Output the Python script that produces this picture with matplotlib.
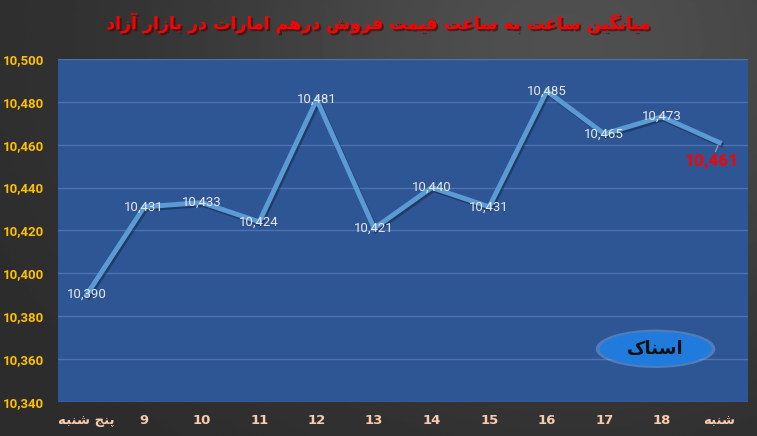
import numpy as np
import matplotlib
matplotlib.use("Agg")
import matplotlib.pyplot as plt
import matplotlib.patheffects as pe
from matplotlib.patches import Ellipse

# ------------------------------------
# Data
# ------------------------------------

categories = ["پنج شنبه", "9", "10", "11", "12", "13", "14", "15", "16", "17", "18", "شنبه"]
prices = [10390, 10431, 10433, 10424, 10481, 10421, 10440, 10431, 10485, 10465, 10473, 10461]
title_text = "میانگین ساعت به ساعت قیمت فروش درهم امارات در بازار آزاد"
y_ticks = [10340, 10360, 10380, 10400, 10420, 10440, 10460, 10480, 10500]


# ------------------------------------
# Minimal Persian shaping (no arabic_reshaper available)
# ------------------------------------

FORMS = {
    "ا": ("\uFE8D", "\uFE8E", None, None),
    "آ": ("\uFE81", "\uFE82", None, None),
    "ب": ("\uFE8F", "\uFE90", "\uFE91", "\uFE92"),
    "پ": ("\uFB56", "\uFB57", "\uFB58", "\uFB59"),
    "ت": ("\uFE95", "\uFE96", "\uFE97", "\uFE98"),
    "ج": ("\uFE9D", "\uFE9E", "\uFE9F", "\uFEA0"),
    "د": ("\uFEA9", "\uFEAA", None, None),
    "ر": ("\uFEAD", "\uFEAE", None, None),
    "ز": ("\uFEAF", "\uFEB0", None, None),
    "س": ("\uFEB1", "\uFEB2", "\uFEB3", "\uFEB4"),
    "ش": ("\uFEB5", "\uFEB6", "\uFEB7", "\uFEB8"),
    "ع": ("\uFEC9", "\uFECA", "\uFECB", "\uFECC"),
    "ف": ("\uFED1", "\uFED2", "\uFED3", "\uFED4"),
    "ق": ("\uFED5", "\uFED6", "\uFED7", "\uFED8"),
    "گ": ("\uFB92", "\uFB93", "\uFB94", "\uFB95"),
    "م": ("\uFEE1", "\uFEE2", "\uFEE3", "\uFEE4"),
    "ن": ("\uFEE5", "\uFEE6", "\uFEE7", "\uFEE8"),
    "ه": ("\uFEE9", "\uFEEA", "\uFEEB", "\uFEEC"),
    "و": ("\uFEED", "\uFEEE", None, None),
    "ی": ("\uFBFC", "\uFBFD", "\uFBFE", "\uFBFF"),
}


def shape(text):
    if not any(c in FORMS for c in text):
        return text
    out = []
    for i, c in enumerate(text):
        if c not in FORMS:
            out.append(c)
            continue
        prev_c = text[i - 1] if i > 0 else None
        next_c = text[i + 1] if i < len(text) - 1 else None
        joins_prev = prev_c in FORMS and FORMS[prev_c][2] is not None
        joins_next = FORMS[c][2] is not None and next_c in FORMS
        iso, fin, ini, med = FORMS[c]
        if joins_prev and joins_next:
            out.append(med)
        elif joins_prev:
            out.append(fin)
        elif joins_next:
            out.append(ini)
        else:
            out.append(iso)
    return "".join(reversed(out))


# ------------------------------------
# Figure
# ------------------------------------

fig = plt.figure(figsize=(7.57, 4.36), dpi=100)

# dark gradient background
bg = fig.add_axes([0, 0, 1, 1], zorder=-10)
gx = np.linspace(0, 1, 256)
gy = np.linspace(0, 1, 256)
gxx, gyy = np.meshgrid(gx, gy)
grad = 0.17 + 0.14 * np.exp(-((gxx - 0.75) ** 2) / 0.25 - ((gyy - 0.1) ** 2) / 0.5)
bg.imshow(grad, cmap="gray", vmin=0, vmax=1, aspect="auto", extent=[0, 1, 0, 1])
bg.axis("off")

ax = fig.add_axes([0.0766, 0.078, 0.9115, 0.787])
ax.set_facecolor("#2E5594")

x = np.arange(len(categories))
ax.plot(x, prices, color="#5B9BD5", linewidth=3.5, solid_joinstyle="miter",
        path_effects=[pe.SimpleLineShadow(offset=(1.2, -1.5), alpha=0.3), pe.Normal()],
        zorder=3)

for i, v in enumerate(prices[:-1]):
    ax.text(x[i], v, f"{v:,}", ha="center", va="center", color="#E8E8E8",
            fontsize=9.5, family="Roboto", zorder=4)

# last point label, pulled off the line with a leader line
ax.annotate(f"{prices[-1]:,}", xy=(x[-1], prices[-1]), xytext=(x[-1] - 0.14, prices[-1] - 9),
            ha="center", va="center", color="#FF0000", fontsize=12.5, fontweight="bold",
            family="Roboto",
            arrowprops=dict(arrowstyle="-", color="#A0A8B8", lw=0.8, shrinkA=9, shrinkB=2),
            zorder=4)

ax.set_xlim(-0.5, len(categories) - 0.5)
ax.set_ylim(10340, 10500)
ax.set_yticks(y_ticks)
ax.set_yticklabels([f"{t:,}" for t in y_ticks], color="#FFC000", fontsize=9.5,
                   fontweight="bold", family="Roboto")
ax.set_xticks(x)
ax.set_xticklabels([shape(c) for c in categories], color="#F8CBAD", fontsize=9.5, fontweight="bold")
ax.tick_params(axis="x", length=0, pad=9)
ax.tick_params(axis="y", length=0, pad=10)
ax.grid(axis="y", color="#4D72AE", linewidth=1)
ax.set_axisbelow(True)
for s in ax.spines.values():
    s.set_visible(False)

# logo placeholder (blue oval with soft glow)
glow = Ellipse((0.866, 0.20), 0.158, 0.088, transform=fig.transFigure,
               facecolor="#8CC8FF", edgecolor="none", alpha=0.35, zorder=5)
fig.add_artist(glow)
logo = Ellipse((0.866, 0.20), 0.148, 0.078, transform=fig.transFigure,
               facecolor="#1E7BE0", edgecolor="none", alpha=0.95, zorder=5)
fig.add_artist(logo)
fig.text(0.866, 0.20, shape("اسناک"), ha="center", va="center", fontsize=13,
         fontweight="bold", color="#111111", zorder=6)

fig.text(0.5, 0.947, shape(title_text), ha="center", va="center", color="#FF0000",
         fontsize=12.5, fontweight="bold",
         path_effects=[pe.withSimplePatchShadow(offset=(1.5, -1.5), alpha=0.6)])

fig.savefig("out.png", dpi=100)
